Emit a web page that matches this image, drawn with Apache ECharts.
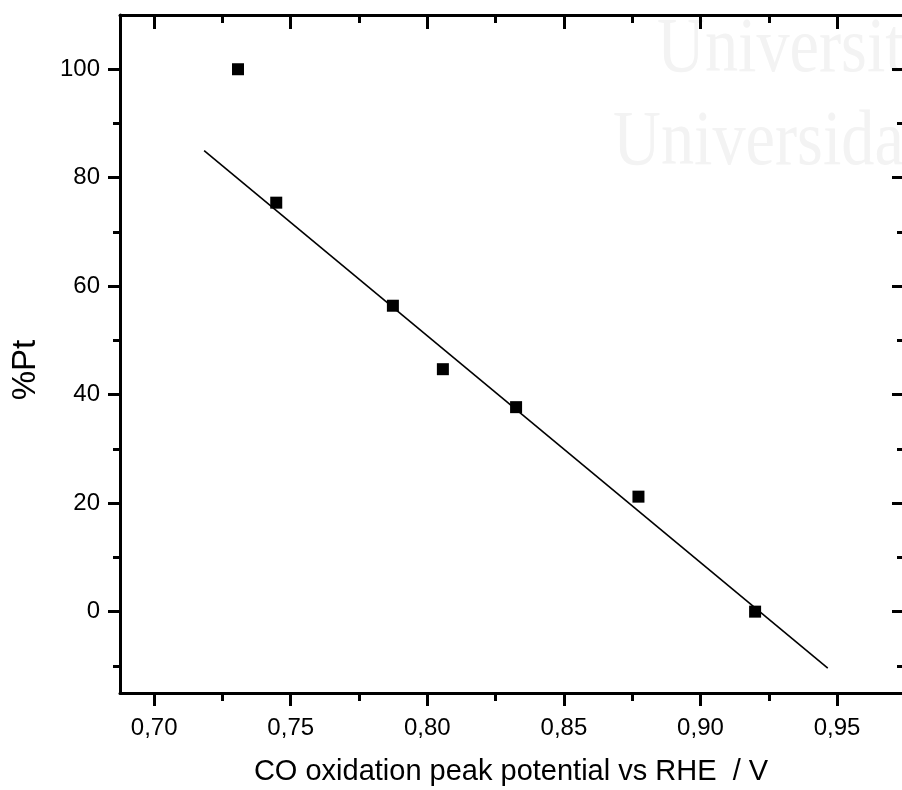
<!DOCTYPE html>
<html>
<head>
<meta charset="utf-8">
<title>%Pt vs CO oxidation peak potential</title>
<script src="https://cdn.jsdelivr.net/npm/echarts@6/dist/echarts.min.js"></script>
<style>
  html, body { margin: 0; padding: 0; background: #ffffff; }
  #chart { width: 902px; height: 790px; }
</style>
</head>
<body>
<div id="chart"></div>
<script>
// Measured CO oxidation peak potentials (V vs RHE) and Pt content (%)
const potential = [0.7307, 0.7447, 0.7874, 0.8057, 0.8325, 0.8773, 0.9200];
const ptPercent = [100, 75.4, 56.4, 44.7, 37.7, 21.2, 0];

// Linear fit drawn across the data range
const fitPotential = [0.7183, 0.9466];
const fitPt = [85.0, -10.4];

// Axis ranges and tick positions (the right-hand frame lies just past the page edge)
const xRange = [0.6875, 0.9811];
const yRange = [-15, 110];
const xMajorTicks = [0.70, 0.75, 0.80, 0.85, 0.90, 0.95];
const xMinorTicks = [0.725, 0.775, 0.825, 0.875, 0.925];
const yMajorTicks = [0, 20, 40, 60, 80, 100];
const yMinorTicks = [-10, 10, 30, 50, 70, 90];

const xTitle = 'CO oxidation peak potential vs RHE  / V';
const yTitle = '%Pt';

const FONT = "'Liberation Sans', Arial, sans-serif";
const INK = '#000000';

function axisBase(extra) {
  return Object.assign({
    type: 'value',
    splitLine: { show: false },
    axisLine: { show: false, onZero: false },
    axisLabel: { show: false },
    axisTick: { show: false }
  }, extra);
}

function tickSet(values, len, inside) {
  return { show: true, customValues: values, length: len, inside: inside,
           lineStyle: { color: INK, width: 3 } };
}

const frameLine = { show: true, onZero: false, lineStyle: { color: INK, width: 3 } };

const chart = echarts.init(document.getElementById('chart'), null, { renderer: 'canvas' });

const xAxes = [
  axisBase({
    position: 'bottom', min: xRange[0], max: xRange[1],
    axisLine: frameLine,
    axisTick: tickSet(xMajorTicks, 13, false),
    axisLabel: {
      show: true, customValues: xMajorTicks, margin: 23,
      color: INK, fontFamily: FONT, fontSize: 24,
      formatter: v => v.toFixed(2).replace('.', ',')
    },
    name: xTitle, nameLocation: 'middle', nameGap: 64,
    nameTextStyle: { color: INK, fontFamily: FONT, fontSize: 29, padding: [0, 20, 0, 0] }
  }),
  axisBase({ position: 'bottom', min: xRange[0], max: xRange[1],
             axisTick: tickSet(xMinorTicks, 8, false) }),
  axisBase({
    position: 'top', min: xRange[0], max: xRange[1],
    axisLine: frameLine,
    axisTick: tickSet(xMajorTicks, 14, true)
  }),
  axisBase({ position: 'top', min: xRange[0], max: xRange[1],
             axisTick: tickSet(xMinorTicks, 8, true) })
];

const yAxes = [
  axisBase({
    position: 'left', min: yRange[0], max: yRange[1],
    axisLine: frameLine,
    axisTick: tickSet(yMajorTicks, 12, false),
    axisLabel: {
      show: true, customValues: yMajorTicks, margin: 20,
      color: INK, fontFamily: FONT, fontSize: 24
    },
    name: yTitle, nameLocation: 'middle', nameGap: 78, nameRotate: 90,
    nameTextStyle: { color: INK, fontFamily: FONT, fontSize: 33, padding: [0, 32, 0, 0] }
  }),
  axisBase({ position: 'left', min: yRange[0], max: yRange[1],
             axisTick: tickSet(yMinorTicks, 7, false) }),
  axisBase({
    position: 'right', min: yRange[0], max: yRange[1],
    axisLine: frameLine,
    axisTick: tickSet(yMajorTicks, 30, true)
  }),
  axisBase({ position: 'right', min: yRange[0], max: yRange[1],
             axisTick: tickSet(yMinorTicks, 25, true) })
];

chart.setOption({
  animation: false,
  backgroundColor: '#ffffff',
  grid: { left: 120, top: 15, right: -20, bottom: 97, containLabel: false, outerBoundsMode: 'none' },
  graphic: [
    { type: 'text', silent: true, z: -10, left: 657, top: 12, scaleX: 0.85,
      style: { text: 'Universit', fill: '#f3f3f3', font: "78px 'Liberation Serif', serif" } },
    { type: 'text', silent: true, z: -10, left: 613, top: 105, scaleX: 0.85,
      style: { text: 'Universida', fill: '#f3f3f3', font: "78px 'Liberation Serif', serif" } }
  ],
  xAxis: xAxes,
  yAxis: yAxes,
  series: [
    {
      name: 'fit', type: 'line', xAxisIndex: 0, yAxisIndex: 0,
      data: fitPotential.map((x, i) => [x, fitPt[i]]),
      showSymbol: false, symbol: 'none',
      lineStyle: { color: INK, width: 1.6 }, z: 3
    },
    {
      name: '%Pt', type: 'scatter', xAxisIndex: 0, yAxisIndex: 0,
      data: potential.map((x, i) => [x, ptPercent[i]]),
      symbol: 'rect', symbolSize: 12,
      itemStyle: { color: INK, opacity: 1 }, z: 4
    }
  ]
});
</script>
</body>
</html>
